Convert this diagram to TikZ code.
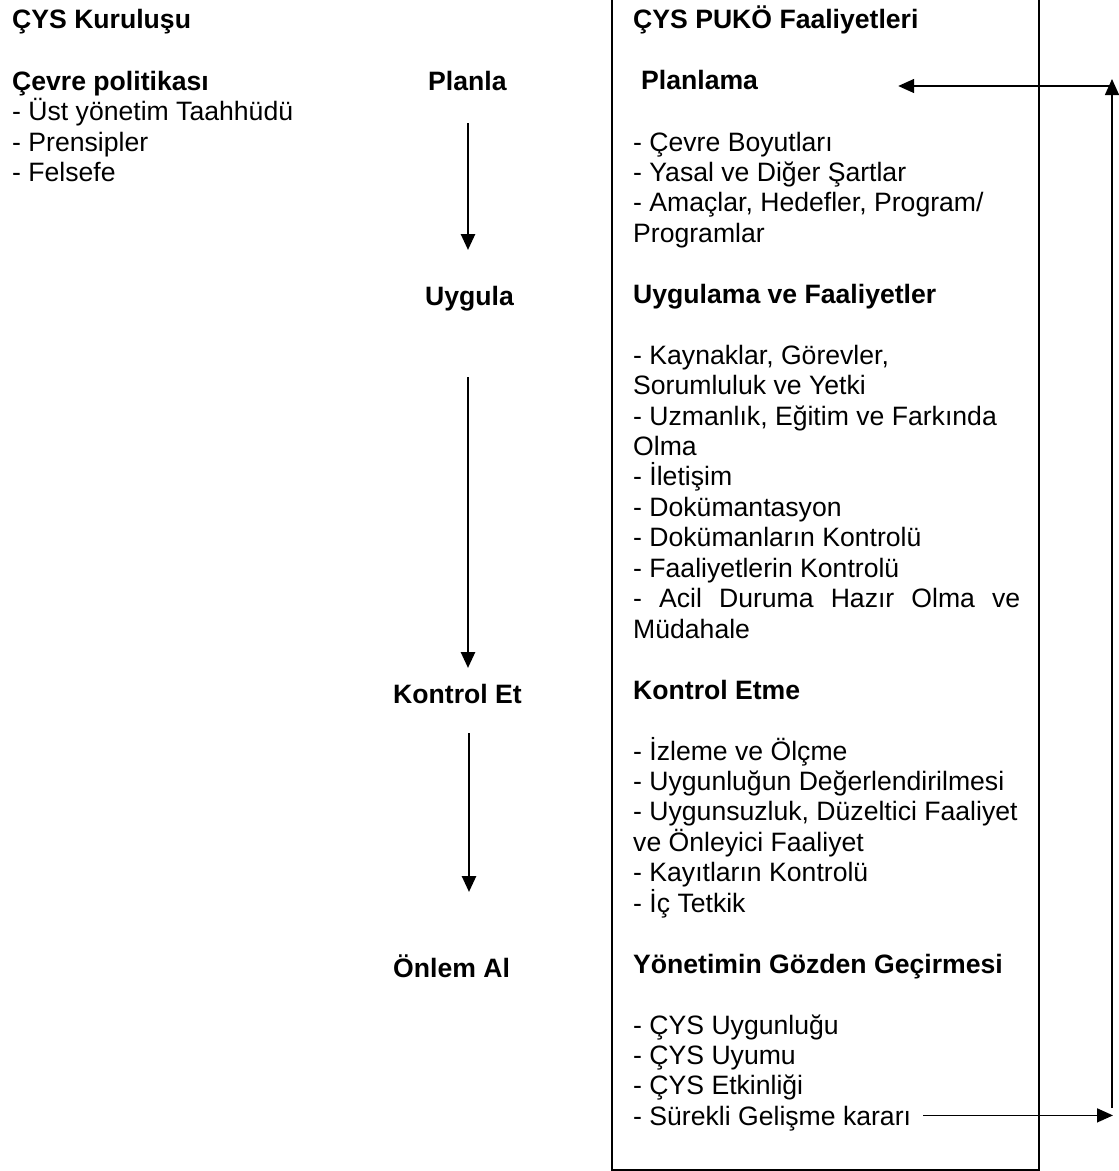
\documentclass[tikz,border=0pt]{standalone}
\usepackage{fontspec}
\setmainfont{Liberation Sans}
\usetikzlibrary{arrows.meta}
\begin{document}
\begin{tikzpicture}[x=1pt,y=-1pt,
  txt/.style={anchor=base west,inner sep=0pt,font=\fontsize{26.6}{30.5}\selectfont},
  hd/.style={anchor=base west,inner sep=0pt,font=\fontsize{26.6}{30.5}\selectfont\bfseries},
  flow/.style={line width=2.6pt,-{Triangle[width=14pt,length=16pt]}},
  loopline/.style={line width=1.5pt,-{Triangle[width=14pt,length=16pt]}},
  frame/.style={line width=1.8pt}]
\useasboundingbox (0,0) rectangle (1119,1171);

% left column: founding of the system
\node[hd]  (kur)  at (12,28)    {ÇYS Kuruluşu};
\node[hd]  (pol)  at (12,90)    {Çevre politikası};
\node[txt] (pol1) at (12,120.5) {- Üst yönetim Taahhüdü};
\node[txt] (pol2) at (12,151)   {- Prensipler};
\node[txt] (pol3) at (12,181.5) {- Felsefe};

% middle column: PDCA steps
\node[hd] (planla)  at (428,90)  {Planla};
\node[hd] (uygula)  at (425,305) {Uygula};
\node[hd] (kontrol) at (393,703) {Kontrol Et};
\node[hd] (onlem)   at (393,977) {Önlem Al};

\coordinate (a1s) at (468,123); \coordinate (a1e) at (468,250);
\coordinate (a2s) at (468,377); \coordinate (a2e) at (468,668);
\coordinate (a3s) at (469,733); \coordinate (a3e) at (469,892);
\draw[flow] (a1s) -- (a1e);
\draw[flow] (a2s) -- (a2e);
\draw[flow] (a3s) -- (a3e);

% right column: framed activity list
\draw[frame] (612,-5) -- (612,1170) -- (1039,1170) -- (1039,-5);

\node[hd] (puko)     at (633,28)     {ÇYS PUKÖ Faaliyetleri};
\node[hd] (planlama) at (641,89.6)   {Planlama};
\node[hd] (uyg)      at (633,303.25) {Uygulama ve Faaliyetler};
\node[hd] (kon)      at (633,699.1)  {Kontrol Etme};
\node[hd] (yon)      at (633,973.15) {Yönetimin Gözden Geçirmesi};

\foreach \k/\t [count=\i] in {
  0/{- Çevre Boyutları},
  1/{- Yasal ve Diğer Şartlar},
  2/{- Amaçlar, Hedefler, Program/},
  3/{Programlar},
  7/{- Kaynaklar, Görevler,},
  8/{Sorumluluk ve Yetki},
  9/{- Uzmanlık, Eğitim ve Farkında},
  10/{Olma},
  11/{- İletişim},
  12/{- Dokümantasyon},
  13/{- Dokümanların Kontrolü},
  14/{- Faaliyetlerin Kontrolü},
  15/{\makebox[387pt][s]{- Acil Duruma Hazır Olma ve}},
  16/{Müdahale},
  20/{- İzleme ve Ölçme},
  21/{- Uygunluğun Değerlendirilmesi},
  22/{- Uygunsuzluk, Düzeltici Faaliyet},
  23/{ve Önleyici Faaliyet},
  24/{- Kayıtların Kontrolü},
  25/{- İç Tetkik},
  29/{- ÇYS Uygunluğu},
  30/{- ÇYS Uyumu},
  31/{- ÇYS Etkinliği}}
  \node[txt] (r\i) at (633,151+30.45*\k) {\t};
\node[txt] (sur) at (633,1125.4) {- Sürekli Gelişme kararı};

% feedback loop back to planning
\coordinate (fbA) at (1113,1115.4);
\coordinate (fbB) at (1112,1108);
\coordinate (fbC) at (1112,79);
\coordinate (fbD) at (1114,86);
\draw[loopline] ([shift={(12,-10)}]sur.base east) -- (fbA);
\draw[loopline] (fbB) -- (fbC);
\draw[loopline] (fbD) -- ([shift={(140,-3.6)}]planlama.base east);
\end{tikzpicture}
\end{document}
